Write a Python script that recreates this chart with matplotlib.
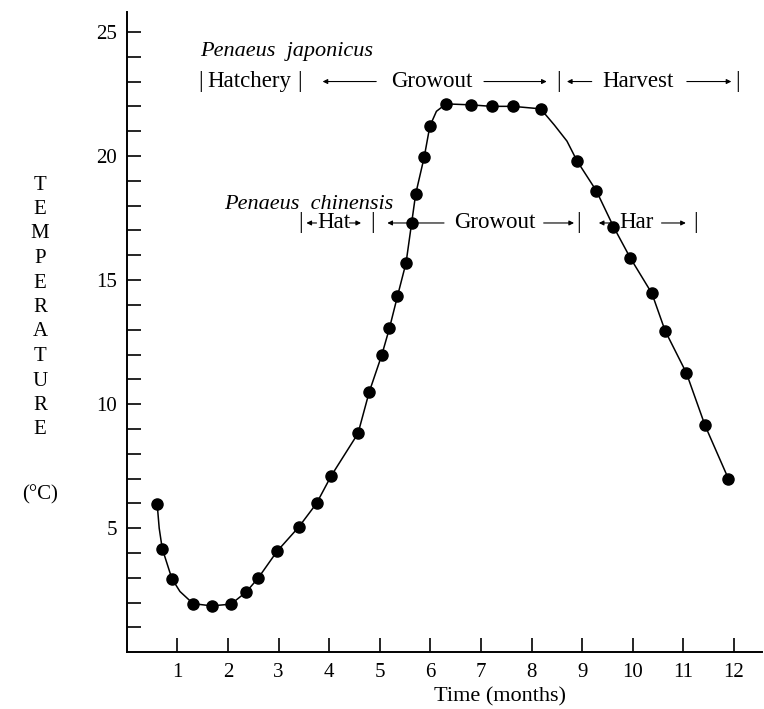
import numpy as np
import matplotlib.pyplot as plt

# water temperature over the year
months = [0.60, 0.70, 0.89, 1.31, 1.68, 2.06, 2.36, 2.60, 2.97, 3.40, 3.75, 4.04,
          4.57, 4.79, 5.04, 5.19, 5.35, 5.52, 5.63, 5.71, 5.88, 5.99, 6.31, 6.80,
          7.21, 7.63, 8.18, 8.90, 9.28, 9.62, 9.95, 10.38, 10.64, 11.06, 11.43, 11.89]
temp = [5.97, 4.18, 2.97, 1.96, 1.87, 1.94, 2.43, 3.00, 4.07, 5.05, 6.00, 7.11,
        8.82, 10.48, 11.98, 13.05, 14.35, 15.70, 17.30, 18.47, 19.97, 21.20, 22.10, 22.06,
        22.00, 22.00, 21.90, 19.80, 18.60, 17.15, 15.90, 14.46, 12.96, 11.26, 9.14, 7.00]
# extra points where the fitted curve leaves the dots
fit_months = [0.64, 1.05, 6.12, 8.45, 8.70]
fit_temp = [5.00, 2.45, 21.80, 21.25, 20.60]
month_ticks = list(range(1, 13))
temp_ticks = [5, 10, 15, 20, 25]

plt.rcParams['font.family'] = ['Liberation Serif', 'DejaVu Serif']

fig = plt.figure(figsize=(7.64, 7.09), dpi=100)
ax = fig.add_axes([0.166, 0.080, 0.831, 0.903])

curve = sorted(zip(months + fit_months, temp + fit_temp))
ax.plot([c[0] for c in curve], [c[1] for c in curve], color='black', lw=1.1, zorder=2)
ax.plot(months, temp, 'o', color='black', ms=8, zorder=3)

ax.set_xlim(0, 12.55)
ax.set_ylim(0, 25.8)
for s in ['top', 'right']:
    ax.spines[s].set_visible(False)
for s in ['left', 'bottom']:
    ax.spines[s].set_linewidth(1.4)

ax.set_xticks(month_ticks)
ax.set_yticks(temp_ticks)
ax.set_yticks(range(1, 26), minor=True)
ax.tick_params(which='both', direction='in', length=10, width=1.2, labelsize=15)
ax.tick_params(axis='x', pad=8)
ax.tick_params(axis='y', pad=7)

fig.text(500 / 764, 1 - 697 / 709, 'Time (months)', ha='center', va='center', fontsize=16)

# stacked y label
for i, ch in enumerate('TEMPERATURE'):
    fig.text(40 / 764, 1 - (185 + i * 24.5) / 709, ch, ha='center', va='center', fontsize=15)
fig.text(40 / 764, 1 - 495 / 709, '(°C)', ha='center', va='center', fontsize=15)


def arrow(x0, x1, y):
    ax.annotate('', xy=(x1, y), xytext=(x0, y),
                arrowprops=dict(arrowstyle='-|>', lw=0.8, color='black',
                                mutation_scale=7, shrinkA=0, shrinkB=0))


def label(x, y, s, size=16.5, **kw):
    ax.text(x, y, s, ha='center', va='center', fontsize=size, **kw)


# Penaeus japonicus row
y1 = 23.0
label(3.16, 24.2, 'Penaeus  japonicus', size=16, style='italic')
label(1.45, y1, '|')
label(2.43, y1, 'Hatchery')
label(3.41, y1, '|')
arrow(4.93, 3.87, y1)
label(6.02, y1, 'Growout')
arrow(7.06, 8.30, y1)
label(8.54, y1, '|')
arrow(9.19, 8.70, y1)
label(10.10, y1, 'Harvest')
arrow(11.07, 11.95, y1)
label(12.07, y1, '|')

# Penaeus chinensis row
y2 = 17.3
label(3.59, 18.06, 'Penaeus  chinensis', size=16, style='italic')
label(3.43, y2, '|')
arrow(3.75, 3.55, y2)
label(4.10, y2, 'Hat')
arrow(4.40, 4.63, y2)
label(4.85, y2, '|')
arrow(6.27, 5.15, y2)
label(7.28, y2, 'Growout')
arrow(8.24, 8.84, y2)
label(8.93, y2, '|')
arrow(9.63, 9.33, y2)
label(10.08, y2, 'Har')
arrow(10.57, 11.05, y2)
label(11.24, y2, '|')

fig.savefig('out.png', dpi=100)
